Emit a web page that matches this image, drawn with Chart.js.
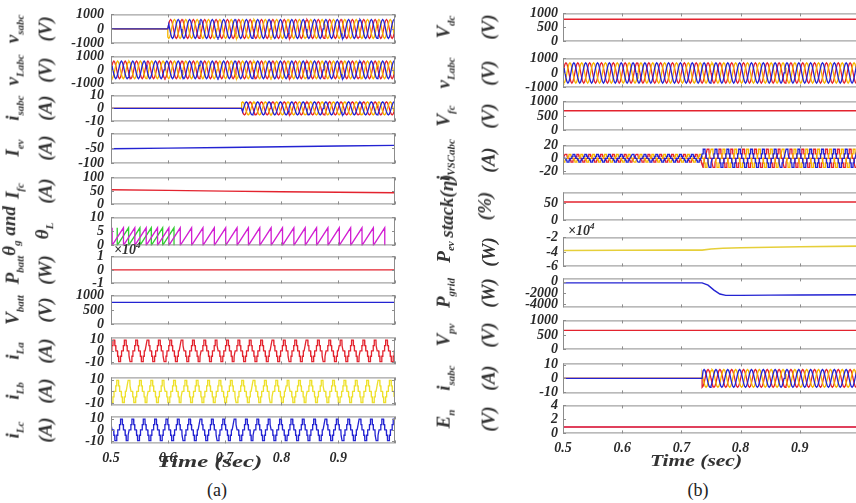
<!DOCTYPE html>
<html lang="en">
<head>
  <meta charset="UTF-8" />
  <title>Simulated waveforms (a) and (b)</title>
  <script src="https://cdn.jsdelivr.net/npm/chart.js@4.4.1/dist/chart.umd.min.js"></script>
  <style>
    html, body { margin: 0; padding: 0; background: #fff; overflow: hidden; }
    #fig { position: relative; width: 856px; height: 503px; overflow: hidden; }
    .box { position: absolute; }
    .ylab {
      position: absolute;
      transform: translate(-50%, -50%) rotate(-90deg);
      font: italic bold 19px "Liberation Serif", serif;
      color: #333;
      white-space: nowrap;
      text-align: center;
    }
    .ylab sub { font-size: 11px; }
    .note { position: absolute; font: italic bold 14px "Liberation Serif", serif; color: #333; white-space: nowrap; }
    .note sup { font-size: 9px; }
    .time { transform-origin: 0 50%; }
    .cap { position: absolute; transform: translate(-50%, -50%); font: 18px "Liberation Serif", serif; color: #222; }
  </style>
</head>
<body>
  <div id="fig"></div>

  <script>
    // ---- data ----
    const T = 0.02;                       // 50 Hz period (s)
    const timeTicks = [0.5, 0.6, 0.7, 0.8, 0.9, 1.0];

    // one cycle of a sine-like phase quantity (phase as fraction of a cycle, per unit)
    const sinePhase = [0, 0.083, 0.167, 0.25, 0.333, 0.417, 0.5, 0.583, 0.667, 0.75, 0.833, 0.917];
    const sineShape = [0, 0.5, 0.87, 1, 0.87, 0.5, 0, -0.5, -0.87, -1, -0.87, -0.5];
    // one cycle of the stepped (rectifier type) current
    const stepPhase = [0, 0.07, 0.085, 0.16, 0.175, 0.325, 0.34, 0.415, 0.43, 0.57, 0.585, 0.66, 0.675, 0.825, 0.84, 0.915, 0.93];
    const stepShape = [0, 0, 0.5, 0.5, 1, 1, 0.5, 0.5, 0, 0, -0.5, -0.5, -1, -1, -0.5, -0.5, 0];
    // one cycle of the phase angle ramp (rad)
    const rampPhase = [0, 0.995];
    const rampShape = [0, 6.28];

    // peaks and switching instants (left, a)
    const vsOn = 0.6, vsPeak = 650;
    const vLPeakA = 650;
    const isOnA = 0.73, isPeakA = 5;
    const thetaGEnd = 0.62;
    const loadPeak = 9.5;

    // slow quantities (left, a)
    const slowT = [0.5, 0.6, 0.7, 0.8, 0.9, 1.0];
    const iEv = [-51, -49, -47, -44.5, -42, -40];
    const iFc = [54, 52, 49, 47, 45, 43];
    const pBatt = [0, 0, 0, 0, 0, 0];          // x 10^4 W
    const vBatt = [760, 760, 760, 760, 760, 760];

    // right, b
    const vDc = [790, 790, 790, 790, 790, 790];
    const vLPeakB = 700;
    const vFc = [680, 680, 680, 680, 680, 680];
    const iVscT = [0.735, 1.0], iVscPeak = [6, 14];
    const eta = [54, 54, 54, 54, 54, 54];
    const pEvT = [0.5, 0.6, 0.7, 0.735, 0.75, 0.77, 0.8, 0.9, 1.0];
    const pEv = [-3.8, -3.78, -3.76, -3.75, -3.6, -3.5, -3.42, -3.3, -3.2];   // x 10^4 W
    const pGridT = [0.5, 0.735, 0.745, 0.755, 0.765, 0.775, 0.8, 0.85, 0.9, 1.0];
    const pGrid = [-200, -200, -600, -1500, -2200, -2450, -2450, -2400, -2380, -2330];
    const vPv = [655, 655, 655, 655, 655, 655];
    const isOnB = 0.735, isPeakB = 6.5;
    const eN = [0.9, 0.9, 0.9, 0.9, 0.9, 0.9];

    // ---- helpers ----
    const RED = '#e3232e', YEL = '#f5b400', BLUE = '#2323d2', LYEL = '#eee02a';

    function series(ts, vs) { return ts.map((t, i) => ({ x: t, y: vs[i] })); }

    // repeat a measured cycle between t0 and t1, lagging by `lag` cycles
    function wave(phase, shape, segs, lag) {
      const pts = [];
      for (const [t0, t1, amp] of segs) {
        if (amp === 0) { pts.push({ x: t0, y: 0 }, { x: t1, y: 0 }); continue; }
        const k0 = Math.floor((t0 - 0.5) / T) - 1;
        for (let k = k0; 0.5 + k * T <= t1 + T; k++) {
          phase.forEach((f, j) => {
            const t = 0.5 + (k + f + lag) * T;
            if (t >= t0 && t <= t1) pts.push({ x: t, y: amp * shape[j] });
          });
        }
      }
      return pts;
    }

    function line(data, color, w) {
      return { data, borderColor: color, borderWidth: w || 1.3, pointRadius: 0, fill: false, tension: 0 };
    }

    function threePhase(phase, shape, segs) {
      // blue first so it is drawn on top
      return [
        line(wave(phase, shape, segs, 2 / 3), BLUE),
        line(wave(phase, shape, segs, 1 / 3), YEL),
        line(wave(phase, shape, segs, 0), RED)
      ];
    }

    const framePlugin = {
      id: 'frame',
      afterDatasetsDraw(chart) {
        const { ctx, chartArea: a, scales: { x, y } } = chart;
        ctx.save();
        ctx.strokeStyle = '#8c8c8c';
        ctx.lineWidth = 1;
        ctx.strokeRect(a.left + 0.5, a.top + 0.5, a.right - a.left - 1, a.bottom - a.top - 1);
        ctx.beginPath();
        timeTicks.forEach(t => {
          const px = Math.round(x.getPixelForValue(t)) + 0.5;
          ctx.moveTo(px, a.top); ctx.lineTo(px, a.top + 3);
          ctx.moveTo(px, a.bottom); ctx.lineTo(px, a.bottom - 3);
        });
        y.ticks.forEach(tk => {
          const py = Math.round(y.getPixelForValue(tk.value)) + 0.5;
          ctx.moveTo(a.left, py); ctx.lineTo(a.left + 3, py);
          ctx.moveTo(a.right, py); ctx.lineTo(a.right - 3, py);
        });
        ctx.stroke();
        ctx.restore();
      }
    };

    const fig = document.getElementById('fig');
    const tickFont = { family: '"Liberation Serif", serif', size: 14, style: 'italic', weight: 'bold' };

    function makePlot(col, i, p) {
      const top = col.tops[i], bottom = col.bottoms[i];
      const last = i === col.tops.length - 1;
      const axisW = 64, xH = last ? 24 : 0;
      const div = document.createElement('div');
      div.className = 'box';
      div.style.left = (col.left - axisW) + 'px';
      div.style.top = (top - 10) + 'px';
      div.style.width = (axisW + col.right - col.left + 4) + 'px';
      div.style.height = (20 + bottom - top + xH) + 'px';
      const cv = document.createElement('canvas');
      div.appendChild(cv);
      fig.appendChild(div);

      const chart = new Chart(cv, {
        type: 'line',
        data: { datasets: p.datasets },
        options: {
          animation: false,
          responsive: true,
          maintainAspectRatio: false,
          layout: { padding: { left: 0, right: 4, top: 2, bottom: 2 } },
          plugins: { legend: { display: false }, tooltip: { enabled: false } },
          scales: {
            x: {
              type: 'linear', min: 0.5, max: 1.0,
              display: last,
              grid: { display: false, drawTicks: false },
              border: { display: false },
              afterBuildTicks: s => { s.ticks = timeTicks.map(v => ({ value: v })); },
              afterFit: s => { s.height = xH; },
              ticks: {
                autoSkip: false, maxRotation: 0, padding: 7, color: '#2a2a2a', font: tickFont,
                callback: v => (v >= 0.999 ? '' : v.toFixed(1))
              }
            },
            y: {
              min: p.range[0], max: p.range[1],
              grid: { display: false, drawTicks: false },
              border: { display: false },
              afterBuildTicks: s => { s.ticks = p.ticks.map(v => ({ value: v })); },
              afterFit: s => { s.width = axisW; },
              ticks: { autoSkip: false, padding: col.tickPad, color: '#2a2a2a', font: tickFont, callback: v => String(v) }
            }
          }
        },
        plugins: [framePlugin]
      });

      // move the canvas so that the plot area lands exactly on the box
      const a = chart.chartArea;
      const padL = a.left, padR = chart.width - a.right, padT = a.top, padB = chart.height - a.bottom;
      div.style.left = (col.left - padL) + 'px';
      div.style.top = (top - padT) + 'px';
      div.style.width = (padL + col.right - col.left + padR) + 'px';
      div.style.height = (padT + bottom - top + padB) + 'px';
      chart.resize();

      const lab = document.createElement('div');
      lab.className = 'ylab';
      lab.style.left = col.labX + 'px';
      lab.style.top = ((top + bottom) / 2) + 'px';
      lab.style.lineHeight = col.labLH + 'px';
      lab.innerHTML = '<div>' + p.sym + '</div><div>' + p.unit + '</div>';
      fig.appendChild(lab);
    }

    function addText(cls, html, x, y, size, stretch) {
      const d = document.createElement('div');
      d.className = cls;
      d.innerHTML = html;
      d.style.left = x + 'px';
      d.style.top = y + 'px';
      if (size) d.style.fontSize = size + 'px';
      if (stretch) d.style.transform = 'scaleX(' + stretch + ')';
      fig.appendChild(d);
    }

    // ---- column (a) ----
    const colA = {
      left: 111, right: 395, tickPad: 7, labX: 29, labLH: 26,
      tops:    [14, 56, 95, 133, 177, 217, 256, 295, 337, 377, 416],
      bottoms: [43, 83, 121, 163, 204, 245, 283, 324, 364, 405, 443]
    };
    const plotsA = [
      { sym: '<i>v</i><sub>sabc</sub>', unit: '(V)', range: [-1000, 1000], ticks: [1000, 0, -1000],
        datasets: threePhase(sinePhase, sineShape, [[0.5, vsOn, 0], [vsOn, 1.0, vsPeak]]) },
      { sym: '<i>v</i><sub>Labc</sub>', unit: '(V)', range: [-1000, 1000], ticks: [1000, 0, -1000],
        datasets: threePhase(sinePhase, sineShape, [[0.5, 1.0, vLPeakA]]) },
      { sym: '<i>i</i><sub>sabc</sub>', unit: '(A)', range: [-10, 10], ticks: [10, 0, -10],
        datasets: threePhase(sinePhase, sineShape, [[0.5, isOnA, 0], [isOnA, 1.0, isPeakA]]) },
      { sym: '<i>I</i><sub>ev</sub>', unit: '(A)', range: [-100, 0], ticks: [0, -50, -100],
        datasets: [line(series(slowT, iEv), BLUE, 1.4)] },
      { sym: '<i>I</i><sub>fc</sub>', unit: '(A)', range: [0, 100], ticks: [100, 50, 0],
        datasets: [line(series(slowT, iFc), RED, 1.4)] },
      { sym: 'θ<sub>g</sub> and', unit: 'θ<sub>L</sub>', range: [0, 10], ticks: [10, 5, 0],
        datasets: [
          line(wave(rampPhase, rampShape, [[0.5, 1.0, 1]], 0.1), '#d21fd2'),
          line(wave(rampPhase, rampShape, [[0.5, thetaGEnd, 1]], 0.55), '#33cc33')
        ] },
      { sym: '<i>P</i><sub>batt</sub>', unit: '(W)', range: [-1, 1], ticks: [1, 0, -1],
        datasets: [line(series(slowT, pBatt), RED, 1.4)] },
      { sym: '<i>V</i><sub>batt</sub>', unit: '(V)', range: [0, 1000], ticks: [1000, 500, 0],
        datasets: [line(series(slowT, vBatt), BLUE, 1.4)] },
      { sym: '<i>i</i><sub>La</sub>', unit: '(A)', range: [-12, 12], ticks: [10, 0, -10],
        datasets: [line(wave(stepPhase, stepShape, [[0.5, 1.0, loadPeak]], 0), RED)] },
      { sym: '<i>i</i><sub>Lb</sub>', unit: '(A)', range: [-12, 12], ticks: [10, 0, -10],
        datasets: [line(wave(stepPhase, stepShape, [[0.5, 1.0, loadPeak]], 1 / 3), LYEL)] },
      { sym: '<i>i</i><sub>Lc</sub>', unit: '(A)', range: [-12, 12], ticks: [10, 0, -10],
        datasets: [line(wave(stepPhase, stepShape, [[0.5, 1.0, loadPeak]], 2 / 3), BLUE)] }
    ];
    plotsA.forEach((p, i) => makePlot(colA, i, p));

    // ---- column (b) ----
    const colB = {
      left: 563, right: 859, tickPad: 5, labX: 466, labLH: 38,
      tops:    [13, 58, 101, 145, 192, 237, 278, 320, 363, 405],
      bottoms: [41, 87, 130, 174, 220, 266, 307, 349, 393, 433]
    };
    const plotsB = [
      { sym: '<i>V</i><sub>dc</sub>', unit: '(V)', range: [0, 1000], ticks: [1000, 500, 0],
        datasets: [line(series(slowT, vDc), RED, 1.4)] },
      { sym: '<i>v</i><sub>Labc</sub>', unit: '(V)', range: [-1000, 1000], ticks: [1000, 0, -1000],
        datasets: threePhase(sinePhase, sineShape, [[0.5, 1.0, vLPeakB]]) },
      { sym: '<i>V</i><sub>fc</sub>', unit: '(V)', range: [0, 1000], ticks: [1000, 500, 0],
        datasets: [line(series(slowT, vFc), RED, 1.4)] },
      { sym: '<i>i</i><sub>VSCabc</sub>', unit: '(A)', range: [-25, 20], ticks: [20, 0, -20],
        datasets: threePhase(stepPhase, stepShape, [[0.5, iVscT[0], iVscPeak[0]], [iVscT[0], iVscT[1], iVscPeak[1]]]) },
      { sym: '<i>stack(η)</i>', unit: '(%)', range: [0, 82], ticks: [50, 0],
        datasets: [line(series(slowT, eta), RED, 1.4)] },
      { sym: '<i>P</i><sub>ev</sub>', unit: '(W)', range: [-6, -2], ticks: [-2, -4, -6],
        datasets: [line(series(pEvT, pEv), '#e6cf3a', 1.6)] },
      { sym: '<i>P</i><sub>grid</sub>', unit: '(W)', range: [-4600, 600], ticks: [0, -2000, -4000],
        datasets: [line(series(pGridT, pGrid), BLUE, 1.4)] },
      { sym: '<i>V</i><sub>pv</sub>', unit: '(V)', range: [0, 1000], ticks: [1000, 500, 0],
        datasets: [line(series(slowT, vPv), RED, 1.4)] },
      { sym: '<i>i</i><sub>sabc</sub>', unit: '(A)', range: [-11, 11], ticks: [10, 0, -10],
        datasets: threePhase(sinePhase, sineShape, [[0.5, isOnB, 0], [isOnB, 1.0, isPeakB]]) },
      { sym: '<i>E</i><sub>n</sub>', unit: '(V)', range: [0, 4], ticks: [4, 2, 0],
        datasets: [line(series(slowT, eN), '#e0405c', 2)] }
    ];
    plotsB.forEach((p, i) => makePlot(colB, i, p));

    // ---- extra text ----
    addText('note', '×10<sup>4</sup>', 114, 240);
    addText('note', '×10<sup>4</sup>', 568, 221);
    addText('note time', 'Time (sec)', 157, 452, 17, 1.45);
    addText('note time', 'Time (sec)', 650, 452, 16, 1.35);
    addText('cap', '(a)', 217, 490);
    addText('cap', '(b)', 698, 490);
  </script>
</body>
</html>
